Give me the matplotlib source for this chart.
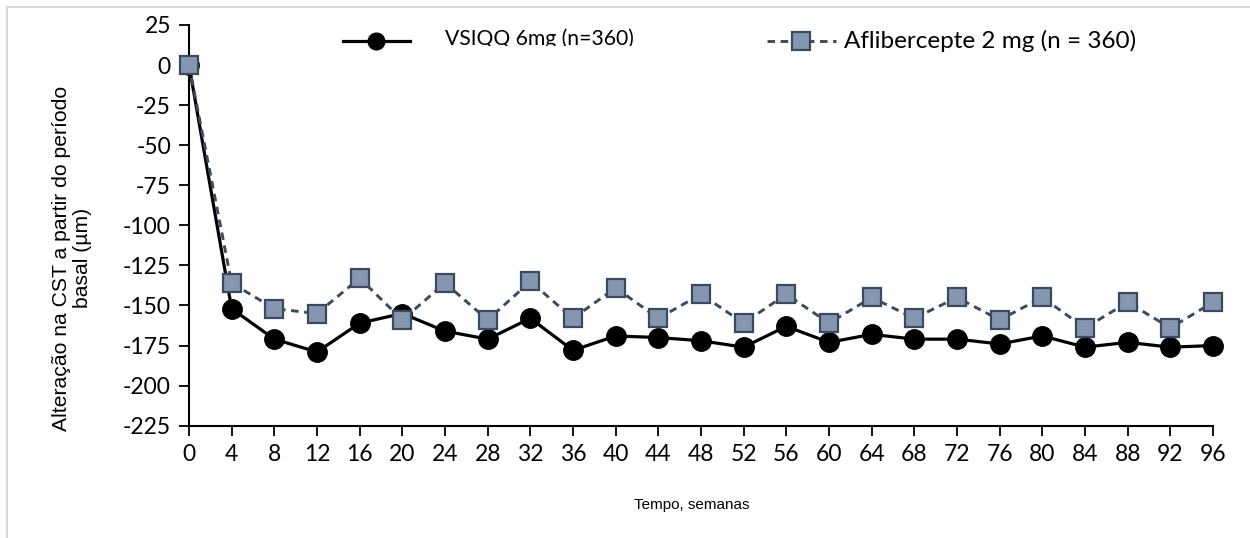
import numpy as np
import matplotlib.pyplot as plt
from matplotlib.lines import Line2D
from matplotlib.patches import Rectangle

weeks = [0, 4, 8, 12, 16, 20, 24, 28, 32, 36, 40, 44, 48, 52, 56, 60, 64, 68, 72, 76, 80, 84, 88, 92, 96]
vsiqq = [0, -152, -171, -179, -161, -155, -166, -171, -158, -178, -169, -170,
         -172, -176, -163, -173, -168, -171, -171, -174, -169, -176, -173, -176, -175]
aflib = [0, -136, -152, -155, -133, -159, -136, -159, -135, -158, -139, -158,
         -143, -161, -143, -161, -145, -158, -145, -159, -145, -164, -148, -164, -148]
yticks = [25, 0, -25, -50, -75, -100, -125, -150, -175, -200, -225]

lbl_vsiqq = 'VSIQQ 6mg (n=360)'
lbl_aflib = 'Aflibercepte 2 mg (n = 360)'

W, H = 1250, 538
fig = plt.figure(figsize=(W / 100, H / 100), dpi=100)
ax = fig.add_axes([189 / W, 1 - 425.7 / H, 1024 / W, 400.7 / H])

sq_face = '#8597B0'
sq_edge = '#3B4A5E'
dash = (0, (2.6, 1.9))

ax.plot(weeks, vsiqq, color='black', lw=2.3, marker='o', ms=14,
        mfc='black', mec='black', zorder=3, clip_on=False)
ax.plot(weeks, aflib, color=sq_edge, lw=2.1, ls=dash, marker='s', ms=13,
        mfc=sq_face, mec=sq_edge, mew=1.6, zorder=4, clip_on=False)

ax.set_xlim(0, 96)
ax.set_ylim(-225, 25)
ax.set_xticks(weeks)
ax.set_yticks(yticks)
tick_font = dict(family='Lato', size=16.5)
ax.set_xticklabels([str(w) for w in weeks], **tick_font)
ax.set_yticklabels([str(v) for v in yticks], **tick_font)
ax.tick_params(direction='out', length=7, width=1.3, colors='black', pad=6)
ax.spines['top'].set_visible(False)
ax.spines['right'].set_visible(False)
ax.spines['left'].set_linewidth(1.5)
ax.spines['bottom'].set_linewidth(1.5)

fig.text(62 / W, 1 - 258 / H, 'Alteração na CST a partir do período', rotation=90,
         ha='center', va='center', family='Liberation Sans', fontsize=15.2)
fig.text(83 / W, 1 - 258 / H, 'basal (µm)', rotation=90,
         ha='center', va='center', family='Liberation Sans', fontsize=15.2)
fig.text(692 / W, 1 - 505 / H, 'Tempo, semanas', ha='center', va='center',
         family='Liberation Sans', fontsize=11)

# legend, drawn by hand like the original
fig.add_artist(Line2D([343 / W, 410 / W], [1 - 41 / H, 1 - 41 / H], color='black', lw=2.3))
fig.add_artist(Line2D([376 / W], [1 - 41 / H], marker='o', ms=12, color='black', ls='none'))
t1 = fig.text(445 / W, 1 - 45 / H, lbl_vsiqq, ha='left', va='baseline', family='Lato', fontsize=15.2)
t1.set_clip_path(Rectangle((0, 1 - 46 / H), 1, 1, transform=fig.transFigure))

fig.add_artist(Line2D([767 / W, 836 / W], [1 - 41 / H, 1 - 41 / H], color=sq_edge, lw=2.1,
                      ls=dash))
fig.add_artist(Line2D([801 / W], [1 - 41 / H], marker='s', ms=13, mfc=sq_face, mec=sq_edge,
                      mew=1.6, ls='none'))
fig.text(844 / W, 1 - 41 / H, lbl_aflib, ha='left', va='center', family='Lato', fontsize=17.5)

# light frame at the top and left edges
fig.add_artist(Line2D([7 / W, 1], [1 - 7 / H, 1 - 7 / H], color='#D9D9D9', lw=1.5))
fig.add_artist(Line2D([7 / W, 7 / W], [0, 1 - 7 / H], color='#D9D9D9', lw=1.5))

fig.savefig('out.png', dpi=100)
